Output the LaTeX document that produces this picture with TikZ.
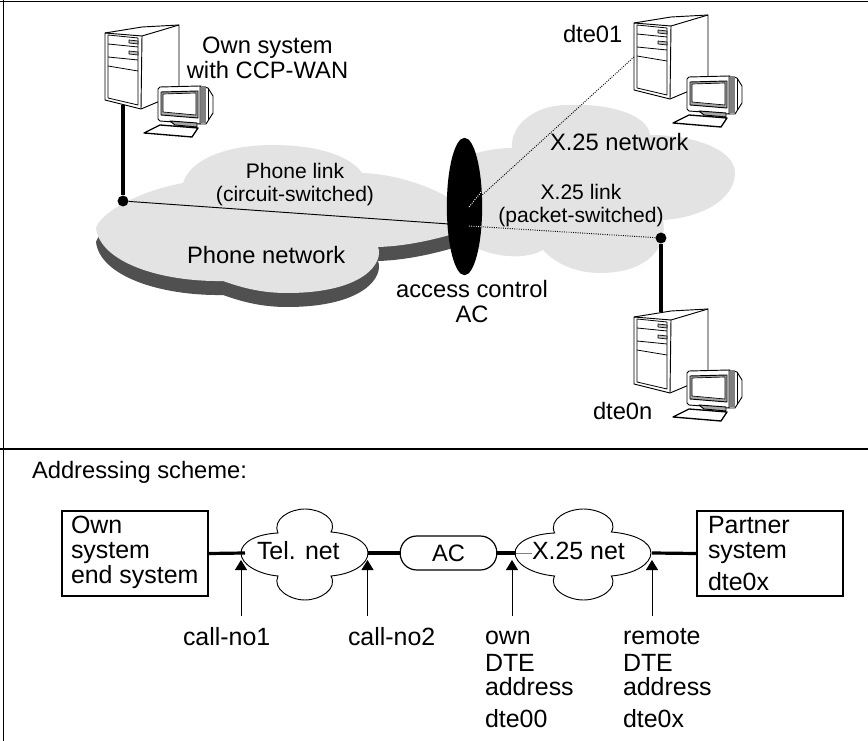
\documentclass[tikz,border=0pt]{standalone}
\usepackage{fontspec}
\setmainfont{Liberation Sans}
\usetikzlibrary{arrows.meta,shapes.geometric}
\definecolor{cloudgray}{HTML}{E3E3E3}
\definecolor{shadowgray}{HTML}{505050}
\newcommand{\fl}{\rule{0pt}{13pt}}
\tikzset{
  big/.style={font=\fontsize{17.8}{18.75}\selectfont,inner sep=0pt,outer sep=0pt},
  boxfont/.style={font=\fontsize{18.7}{18.75}\selectfont,inner sep=0pt,outer sep=0pt},
  small/.style={font=\fontsize{15.8}{17.5}\selectfont,inner sep=0pt,outer sep=0pt},
  lefttext/.style={big,align=left,anchor=north west},
  boxtext/.style={boxfont,align=left,anchor=north west},
  centertext/.style={align=center,anchor=north},
  frameline/.style={line width=0.8pt},
  cable/.style={line width=2.3pt},
  thickline/.style={line width=2.4pt},
  sysbox/.style={draw,line width=1.7pt,minimum width=109pt,minimum height=63.5pt,inner sep=0pt},
  joint/.style={circle,fill=black,minimum size=8.2pt,inner sep=0pt},
  pointer/.style={line width=0.75pt,-{Triangle[width=9pt,length=7.5pt]}},
  netcloud/.style={draw,line width=0.7pt,fill=white},
  pc/.style={line width=0.7pt,line join=round}
}
\newcommand{\computer}[1]{%
  \begin{scope}[shift={(#1)},pc]
    \draw[fill=white] (0,0) -- (37,-6) -- (74,-8) -- (74,60) -- (36,76) -- (0,67) -- cycle;
    \draw (0,0) -- (37,3) -- (36,76);
    \draw (37,3) -- (74,-8);
    \draw[line width=0.6pt] (3,2) -- (33,5) -- (33,72) -- (3,65) -- cycle;
    \draw[line width=0.6pt] (3,11) -- (33,14);
    \draw[line width=0.6pt] (3,24) -- (33,27);
    \draw[line width=0.6pt] (3,33) -- (33,38);
    \draw[line width=0.5pt,fill=lightgray] (24,7) -- (33,8) -- (33,11) -- (24,10) -- cycle;
    \draw[line width=0.5pt,fill=lightgray] (24,18) -- (33,19) -- (33,22) -- (24,21) -- cycle;
    \draw[fill=white] (95,53) -- (103,55) -- (108,63) -- (108,80) -- (101,91) -- (95,91) -- cycle;
    \fill[gray] (96,53.5) rectangle (101,90.5);
    \draw (103,55) -- (103,87);
    \draw[fill=white] (53,56) -- (55,54) -- (95,53) -- (95,91) -- (55,88) -- (53,86) -- cycle;
    \draw[fill=gray!70] (56,59) -- (93,58) -- (93,85) -- (56,82) -- cycle;
    \draw[fill=white,line width=0.5pt] (58,61) -- (91,60) -- (91,82) -- (58,79) -- cycle;
    \draw[fill=gray!70] (65,88) -- (92,90) -- (92,94) -- (70,92) -- cycle;
    \draw[fill=white,line width=1pt] (39,100) -- (55,92) -- (93,95) -- (87,104) -- cycle;
  \end{scope}}
\newcommand{\netshape}[2]{%
  \begin{scope}[shift={(#1)},xscale=#2]
    \draw[netcloud] (-27,-21) .. controls (-33,-35) and (-15,-45) .. (0,-45)
      .. controls (15,-45) and (33,-35) .. (26,-22)
      .. controls (48,-20) and (63,-12) .. (63,-1)
      .. controls (63,10) and (48,20) .. (26,22)
      .. controls (33,35) and (15,46) .. (0,46)
      .. controls (-15,46) and (-33,35) .. (-27,22)
      .. controls (-48,20) and (-64,10) .. (-64,-1)
      .. controls (-64,-12) and (-48,-20) .. (-27,-21) -- cycle;
  \end{scope}}
\newcommand{\phonepath}{
  (96,228) .. controls (100,214) and (135,192) .. (183,183)
  .. controls (190,160) and (225,145) .. (273,145)
  .. controls (315,145) and (350,155) .. (362,173)
  .. controls (400,174) and (440,190) .. (460,205)
  -- (460,232) .. controls (440,238) and (410,246) .. (378,247)
  .. controls (384,262) and (365,293) .. (287,293)
  .. controls (260,293) and (240,287) .. (223,281)
  .. controls (160,282) and (100,262) .. (96,228) -- cycle}
\begin{document}
\begin{tikzpicture}[x=0.75pt,y=-0.75pt]
\useasboundingbox (0,0) rectangle (868,741);
% frame
\coordinate (tl) at (0,1.5);
\coordinate (tr) at (868,1.5);
\coordinate (ml) at (0,449);
\coordinate (mr) at (868,449);
\coordinate (vt) at (3.5,0);
\coordinate (vb) at (3.5,741);
\draw[frameline] (tl) -- (tr);
\draw[frameline] (ml) -- (mr);
\draw[frameline] (vt) -- (vb);
% clouds upper
\fill[shadowgray,shift={(0,14)}] \phonepath;
\fill[cloudgray] \phonepath;
\fill[cloudgray] (470,155) .. controls (485,150) and (500,148) .. (512,148)
  .. controls (510,125) and (535,105) .. (567,105)
  .. controls (610,103) and (648,115) .. (650,135)
  .. controls (695,135) and (735,150) .. (735,173)
  .. controls (735,200) and (700,218) .. (663,220)
  .. controls (668,245) and (650,273) .. (600,273)
  .. controls (575,273) and (555,263) .. (543,250)
  .. controls (525,260) and (495,258) .. (470,245) -- cycle;
% computers
\computer{105,33}
\computer{634,23}
\computer{634,317}
% connection points
\node[joint] (j1) at (123,201) {};
\node[joint] (j2) at (661,238) {};
\coordinate (pc1) at (123,105);
\coordinate (pcn) at (661,312);
\draw[cable] (pc1) -- (j1);
\draw[cable] (j2) -- (pcn);
\coordinate (acin) at (449,224);
\coordinate (acpk) at (469,226);
\coordinate (acdt) at (469,207);
\coordinate (dte1) at (634,57);
\draw[line width=0.7pt] (j1) -- (acin);
\draw[line width=0.7pt,densely dotted] (acpk) -- (j2);
\draw[line width=0.7pt,densely dotted] (acdt) -- (dte1);
\node[ellipse,fill=black,minimum width=26.5pt,minimum height=103pt,inner sep=0pt] (ac) at (464.5,206.5) {};
\coordinate (acpke) at (482,226.8);
\coordinate (acdte) at (482,191);
\draw[line width=0.7pt,white,densely dotted] (acpk) -- (acpke);
\draw[line width=0.7pt,white,densely dotted] (acdt) -- (acdte);
% upper text
\node[big,centertext] (own) at (267.5,35.7) {\fl Own system\\with CCP-WAN};
\node[small,centertext] (phlink) at (295,160.7) {\fl Phone link\\\fl(circuit-switched)};
\node[small,centertext] (x25link) at (581,181.7) {\fl X.25 link\\(packet-switched)};
\node[lefttext] (phnet) at (187,245.7) {\fl Phone network};
\node[lefttext] (x25netl) at (550,132.7) {\fl X.25 network};
\node[lefttext] (d1) at (563,24.7) {\fl dte01};
\node[lefttext] (dn) at (593,401.7) {\fl dte0n};
\node[big,centertext] (acl) at (472,279.7) {\fl access control\\\fl AC};
\node[lefttext] (addr) at (32,460.7) {\fl Addressing scheme:};
% lower scheme
\node[sysbox] (ownbox) at (135,553.5) {};
\node[sysbox] (partner) at (770,553.5) {};
\coordinate (telw) at (245,553);
\coordinate (tele) at (368,553);
\coordinate (x25w) at (516,553);
\coordinate (x25e) at (652,553);
\coordinate (x25t) at (532,553);
\netshape{305,554}{1}
\netshape{583.5,554}{1.07}
\node[draw,rounded corners=12.5pt,line width=0.9pt,fill=white,minimum width=72.5pt,minimum height=25.5pt,inner sep=0pt,big] (acbox) at (448.5,553) {AC};
\draw[thickline] (ownbox.east) -- (telw);
\draw[thickline] (tele) -- (acbox.west);
\draw[thickline] (acbox.east) -- (x25w);
\draw[thickline] (x25e) -- (partner.west);
\draw[line width=0.5pt,gray] (x25w) -- (x25t);
\node[boxtext] (ownt) at (71,515.7) {\fl Own\\system\\end system};
\node[boxtext] (partt) at (708,515.7) {\fl Partner\\system\\[5.5pt]dte0x};
\node[boxfont,anchor=base west] (tel) at (257,560) {Tel. net};
\node[boxfont,anchor=base west] (x25) at (532,560) {X.25 net};
% pointers
\coordinate (p1s) at (241,616); \coordinate (p1e) at (241,560);
\coordinate (p2s) at (367.5,616); \coordinate (p2e) at (367.5,560);
\coordinate (p3s) at (512,616); \coordinate (p3e) at (512,560);
\coordinate (p4s) at (652,616); \coordinate (p4e) at (652,560);
\draw[pointer] (p1s) -- (p1e);
\draw[pointer] (p2s) -- (p2e);
\draw[pointer] (p3s) -- (p3e);
\draw[pointer] (p4s) -- (p4e);
\node[boxtext] (c1) at (183,627.7) {\fl call-no1};
\node[boxtext] (c2) at (348,627.7) {\fl call-no2};
\node[boxtext] (ownd) at (485,626.7) {\fl own\\[1.5pt]DTE\\[-0.75pt]address\\[5.25pt]dte00};
\node[boxtext] (remd) at (623,626.7) {\fl remote\\[1.5pt]DTE\\[-0.75pt]address\\[5.25pt]dte0x};
\end{tikzpicture}
\end{document}
